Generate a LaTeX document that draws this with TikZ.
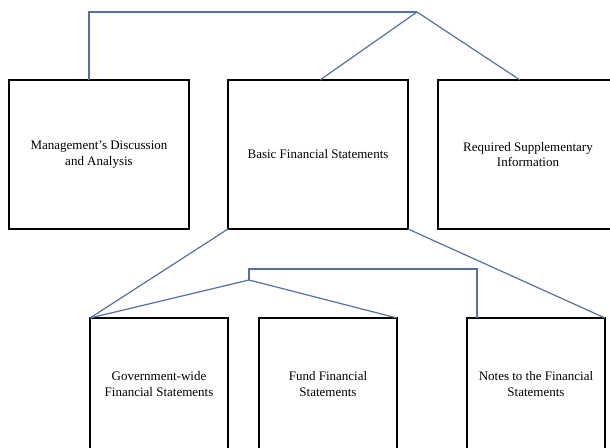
\documentclass[tikz,border=0pt]{standalone}
\usepackage{fontspec}
\setmainfont{Liberation Serif}
\usetikzlibrary{positioning}
\definecolor{linkblue}{RGB}{84,112,166}

\begin{document}
\begin{tikzpicture}[x=1pt, y=-1pt,
    box/.style={draw, line width=1.6pt, align=center, inner sep=0pt, outer sep=0pt, font=\fontsize{13}{15.5}\selectfont},
    topbox/.style={box, minimum width=180pt, minimum height=149pt},
    subbox/.style={box, minimum width=138pt, minimum height=132pt},
    link/.style={draw=linkblue, line width=1.2pt}]
    \useasboundingbox (0,0) rectangle (610,447);
    % Nodes
    \node[topbox] (mda) at (99,154.5) {Management's Discussion\\and Analysis};
    \node[topbox, right=39pt of mda] (bfs) {Basic Financial Statements};
    \node[topbox, right=30pt of bfs] (rsi) {Required Supplementary\\Information};
    \node[subbox] (gw) at (159,384) {Government-wide\\Financial Statements};
    \node[subbox, right=31pt of gw] (fund) {Fund Financial\\Statements};
    \node[subbox, right=70pt of fund] (notes) {Notes to the Financial\\Statements};
    \coordinate (top) at (417,12);
    \coordinate (sub) at (249,280);

    % Connections
    \draw[link] ([xshift=-10pt]mda.north) |- (top);
    \draw[link] (top) -- ([xshift=2pt]bfs.north);
    \draw[link] (top) -- ([xshift=-8pt]rsi.north);
    \draw[link] (bfs.south west) -- (gw.north west);
    \draw[link] (bfs.south east) -- (notes.north east);
    \draw[link] (sub) -- (gw.north west);
    \draw[link] (sub) -- (fund.north east);
    \draw[link] (sub) -- ++(0,-11) -| ([xshift=10pt]notes.north west);
\end{tikzpicture}
\end{document}
